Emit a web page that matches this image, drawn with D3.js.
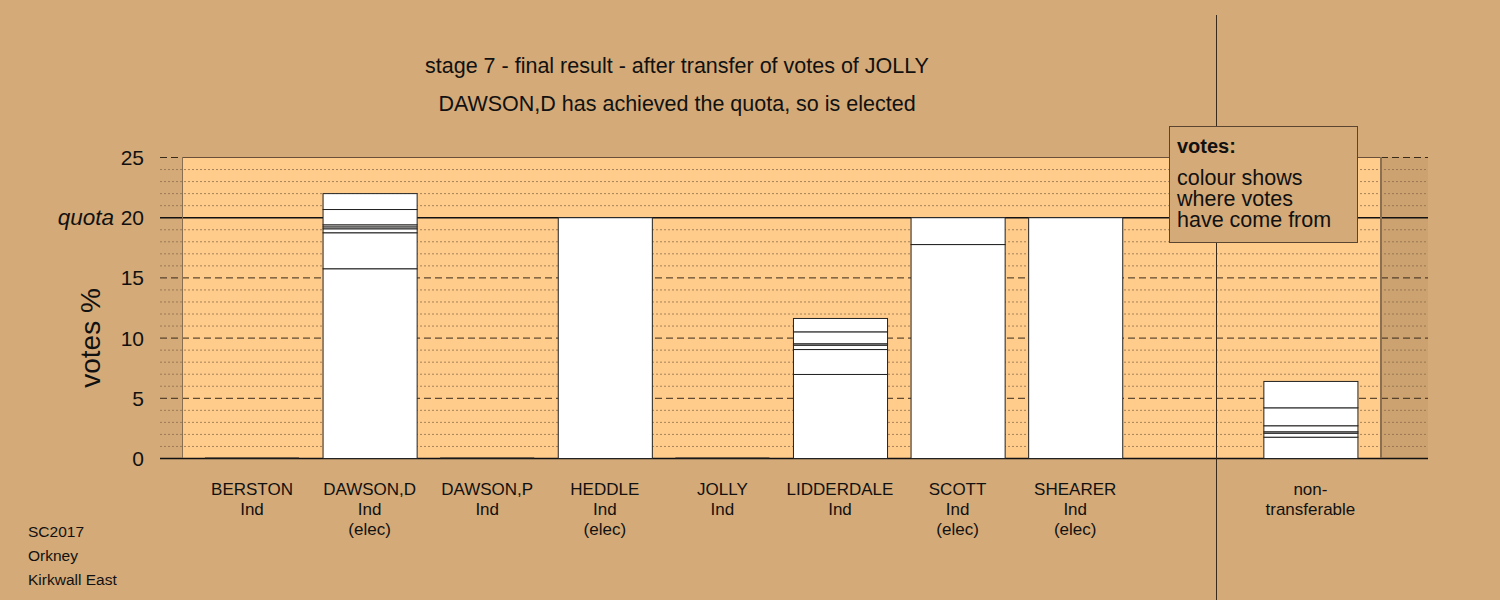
<!DOCTYPE html>
<html><head><meta charset="utf-8">
<script src="https://cdn.jsdelivr.net/npm/d3@7"></script>
<style>body{margin:0;background:#D4AA78;} text{font-family:"Liberation Sans",Arial,sans-serif;fill:#111;}</style>
</head><body><svg id="c" width="1500" height="600"></svg>
<script>
const categories = ["BERSTON","DAWSON,D","DAWSON,P","HEDDLE","JOLLY","LIDDERDALE","SCOTT","SHEARER","","non-"];
const labelLine2 = ["Ind","Ind","Ind","Ind","Ind","Ind","Ind","Ind","","transferable"];
const labelLine3 = ["","(elec)","","(elec)","","","(elec)","(elec)","",""];
// stacked vote segments (% of votes), bottom to top
const segments = [
  [0],
  [15.76, 2.99, 0.33, 0.16, 0.17, 1.27, 1.32],
  [0],
  [20.0],
  [0],
  [6.98, 2.07, 0.36, 0.12, 0.99, 1.11],
  [17.77, 2.23],
  [20.0],
  null,
  [1.77, 0.33, 0.12, 0.50, 1.49, 2.19]
];
const quota = 20;
const yTicks = [0,5,10,15,20,25];
const titleLines = ["stage 7 - final result - after transfer of votes of JOLLY","DAWSON,D has achieved the quota, so is elected"];
const footer = ["SC2017","Orkney","Kirkwall East"];
const legendLines = ["colour shows","where votes","have come from"];

const svg = d3.select("#c");
const bg = "#D4AA78";
svg.append("rect").attr("width",1500).attr("height",600).attr("fill",bg);

const y = d3.scaleLinear().domain([0,25]).range([458,157]);
const x = d3.scaleBand().domain(d3.range(categories.length)).range([193.2,1369.2]).paddingInner(0.2).paddingOuter(0.1);
const gx0 = 160, gx1 = 1428, px0 = 182, px1 = 1381;

// darker band at right
svg.append("rect").attr("x",px1).attr("y",y(25)).attr("width",gx1-px1).attr("height",y(0)-y(25)).attr("fill","rgba(90,60,20,0.07)");
// panel
svg.append("rect").attr("x",px0).attr("y",y(25)).attr("width",px1-px0).attr("height",y(0)-y(25)).attr("fill","#FFCC8C");

// grid
const minor = d3.range(1,25).filter(v=>v%5!==0);
svg.append("g").selectAll("line").data(minor).join("line")
  .attr("x1",gx0).attr("x2",gx1).attr("y1",d=>y(d)+0.5).attr("y2",d=>y(d)+0.5)
  .attr("stroke","#8a6a48").attr("stroke-opacity",0.75).attr("stroke-dasharray","2,2");
svg.append("g").selectAll("line").data([5,10,15,25]).join("line")
  .attr("x1",gx0).attr("x2",gx1).attr("y1",d=>y(d)+0.5).attr("y2",d=>y(d)+0.5)
  .attr("stroke","#3a2a1a").attr("stroke-dasharray","7,4");
svg.append("line").attr("x1",px0).attr("x2",px1).attr("y1",y(25)+0.5).attr("y2",y(25)+0.5).attr("stroke","#6a5038");
svg.append("g").selectAll("line").data([0,quota]).join("line")
  .attr("x1",gx0).attr("x2",gx1).attr("y1",d=>y(d)+0.5).attr("y2",d=>y(d)+0.5)
  .attr("stroke","#111").attr("stroke-width",1.5);
// panel side edges
svg.append("line").attr("x1",px0+0.5).attr("x2",px0+0.5).attr("y1",y(25)).attr("y2",y(0)).attr("stroke","#8a6e50");
svg.append("line").attr("x1",px1).attr("x2",px1).attr("y1",y(25)).attr("y2",y(0)).attr("stroke","#8a7050").attr("stroke-width",2);

// bars
segments.forEach((segs,i)=>{
  if(!segs) return;
  const bx = x(i), bw = x.bandwidth();
  const total = d3.sum(segs);
  if(total===0){
    svg.append("line").attr("x1",bx).attr("x2",bx+bw).attr("y1",y(0)).attr("y2",y(0)).attr("stroke","#222");
    return;
  }
  let acc = 0;
  const stack = segs.map(v=>{const s={y0:acc,y1:acc+v}; acc+=v; return s;});
  svg.append("g").selectAll("rect").data(stack).join("rect")
    .attr("x",bx+0.5).attr("width",bw).attr("y",d=>y(d.y1)+0.5).attr("height",d=>y(d.y0)-y(d.y1))
    .attr("fill","#fff").attr("stroke","#222").attr("stroke-width",1);
});

// y axis
const ax = svg.append("g").attr("transform","translate(144,0)")
  .call(d3.axisLeft(y).tickValues(yTicks).tickSize(0).tickPadding(0));
ax.select(".domain").remove();
ax.selectAll("text").attr("font-size",21).attr("font-family","Liberation Sans, Arial, sans-serif").attr("fill","#111").attr("dy","0.36em");
svg.append("text").attr("x",114).attr("y",y(quota)).attr("dy","0.36em").attr("text-anchor","end")
  .attr("font-size",22.5).attr("font-style","italic").text("quota");
svg.append("text").attr("transform","translate(100,338) rotate(-90)").attr("text-anchor","middle")
  .attr("font-size",28).text("votes %");

// x labels
categories.forEach((c,i)=>{
  const cx = x(i)+x.bandwidth()/2;
  [c,labelLine2[i],labelLine3[i]].forEach((t,j)=>{
    if(!t) return;
    svg.append("text").attr("x",cx).attr("y",495+j*20).attr("text-anchor","middle").attr("font-size",17).text(t);
  });
});

// titles
titleLines.forEach((t,j)=>svg.append("text").attr("x",677).attr("y",73+j*38).attr("text-anchor","middle").attr("font-size",21.5).text(t));

// footer
footer.forEach((t,j)=>svg.append("text").attr("x",28).attr("y",537+j*24).attr("font-size",15.5).text(t));

// divider
svg.append("line").attr("x1",1216.5).attr("x2",1216.5).attr("y1",15).attr("y2",600).attr("stroke","#3a2a1a").attr("stroke-width",1);

// legend
svg.append("rect").attr("x",1169.5).attr("y",126.5).attr("width",188).attr("height",116).attr("fill",bg).attr("stroke","#5a4530");
svg.append("text").attr("x",1177).attr("y",153).attr("font-size",20).attr("font-weight","bold").text("votes:");
legendLines.forEach((t,j)=>svg.append("text").attr("x",1177).attr("y",185+j*21).attr("font-size",21.5).text(t));
</script></body></html>
